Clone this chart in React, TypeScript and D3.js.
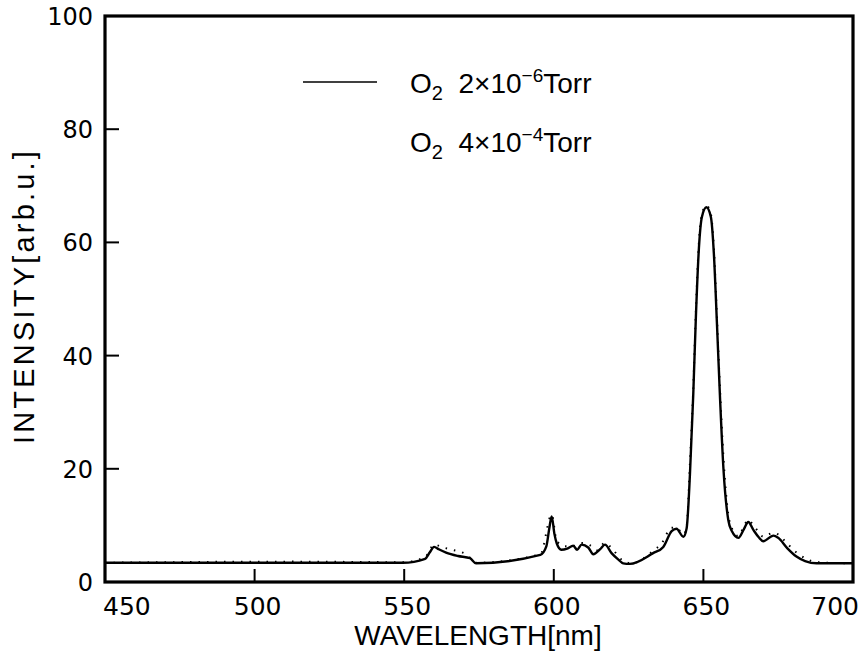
import React from "react";
import * as d3 from "d3";

const wavelength1 = [450, 500, 549.5, 557, 558.5, 560, 561.5, 564, 568, 572, 574, 595.5, 597.5, 598.5, 599.3, 600.2, 601, 602.5, 604.5, 606.5, 607.8, 609.3, 611.5, 613.2, 615.5, 617.1, 619.3, 621.5, 623.2, 625.4, 633.2, 636.6, 639.4, 641, 643.3, 644.4, 645.5, 646.6, 647.5, 648.5, 649.5, 651, 652.5, 653.5, 654.5, 655.6, 656.7, 658.3, 659.5, 661.7, 663.5, 665, 666.7, 668.5, 670, 673.4, 675, 678, 681.1, 684, 687.8, 700];
const intensity1 = [3.4, 3.4, 3.4, 4.1, 5.2, 6.2, 5.8, 5.2, 4.6, 4.2, 3.3, 4.8, 6.3, 9.5, 11.6, 8.5, 6.8, 5.7, 5.9, 6.4, 5.7, 6.6, 6.1, 4.9, 5.8, 6.6, 5.1, 4.0, 3.3, 3.2, 5.1, 6.2, 9.0, 9.4, 8.0, 9.5, 19, 33, 47, 59, 64.5, 66.2, 64.5, 58, 46, 32, 20, 11, 9, 7.8, 9.3, 10.6, 9.2, 7.9, 7.2, 8.2, 7.8, 6, 4.5, 3.7, 3.3, 3.3];

const wavelength2 = [450, 513, 549.5, 557, 560, 563, 566, 571, 574, 595.5, 599.3, 601, 604, 607, 609.3, 612, 614.5, 617, 619.5, 621.5, 623.5, 626, 633, 636, 639.4, 641, 643.3, 644.4, 645.5, 646.6, 647.5, 648.5, 649.5, 651, 652.5, 653.5, 654.5, 655.6, 656.7, 658.3, 659.5, 661.7, 663.5, 665, 666.7, 668.5, 670, 673.4, 675, 678, 681.1, 684, 687.8, 700];
const intensity2 = [3.4, 3.6, 3.5, 4.4, 6.6, 6.1, 5.7, 4.8, 3.4, 4.9, 11.9, 7.2, 6.3, 6.4, 6.9, 6.5, 5.6, 6.9, 5.9, 4.6, 3.6, 3.3, 5.4, 6.8, 9.6, 9.6, 8.4, 9.8, 21, 34, 48, 60, 65, 66.5, 65, 59, 47, 33.5, 22, 12, 9.5, 8.1, 9.8, 11, 10, 8.8, 8, 8.7, 8.4, 6.8, 5.2, 4.2, 3.5, 3.3];

const xTicks = [450, 500, 550, 600, 650, 700];
const yTicks = [0, 20, 40, 60, 80, 100];

export default function App() {
  const W = 862, H = 651;
  const L = 105, R = 853, T = 16, B = 582;
  const x = d3.scaleLinear().domain([450, 700]).range([L, R]);
  const y = d3.scaleLinear().domain([0, 100]).range([B, T]);
  const line = d3.line<[number, number]>().x(d => x(d[0])).y(d => y(d[1])).curve(d3.curveMonotoneX);
  const d1 = line(wavelength1.map((w, i) => [w, intensity1[i]]));
  const d2 = line(wavelength2.map((w, i) => [w, intensity2[i]]));
  const dv = "'DejaVu Sans', sans-serif";
  const lib = "'Liberation Sans', sans-serif";
  return (
    <svg width={W} height={H} style={{ position: "absolute", left: 0, top: 0, background: "#fff" }} fontFamily={dv}>
      <rect x={0} y={0} width={W} height={H} fill="#fff" />
      <path d={d2 ?? ""} fill="none" stroke="#000" strokeWidth={2} strokeDasharray="1.5,7" />
      <path d={d1 ?? ""} fill="none" stroke="#000" strokeWidth={2.4} />
      <rect x={L} y={T} width={R - L} height={B - T} fill="none" stroke="#000" strokeWidth={3.2} />
      {xTicks.map((t, i) => (
        <g key={"x" + t}>
          {t > 450 && t < 700 && <line x1={x(t)} x2={x(t)} y1={B} y2={B - 13} stroke="#000" strokeWidth={2} />}
          <text x={i === 0 ? 103 : i === xTicks.length - 1 ? 859 : x(t) + 3} y={615}
            textAnchor={i === 0 ? "start" : i === xTicks.length - 1 ? "end" : "middle"} fontSize={25}>{t}</text>
        </g>
      ))}
      {yTicks.map(t => (
        <g key={"y" + t}>
          {t > 0 && t < 100 && <line x1={L} x2={L + 14} y1={y(t)} y2={y(t)} stroke="#000" strokeWidth={2} />}
          <text x={93} y={y(t) + 9} textAnchor="end" fontSize={24}>{t}</text>
        </g>
      ))}
      <text x={478} y={645} textAnchor="middle" fontSize={28} style={{ fontFamily: lib }}>WAVELENGTH[nm]</text>
      <text transform={`translate(34,${296}) rotate(-90)`} textAnchor="middle" fontSize={29} letterSpacing={3.2} style={{ fontFamily: lib }}>INTENSITY[arb.u.]</text>
      <line x1={303} x2={377} y1={82} y2={82} stroke="#000" strokeWidth={1.6} />
      <text x={410} y={93} fontSize={28} style={{ fontFamily: lib }}>
        <tspan>O</tspan><tspan dy={7} fontSize={20}>2</tspan><tspan dy={-7}>{"\u00a0\u00a02\u00d710"}</tspan><tspan dy={-11} fontSize={19}>{"\u2212"}6</tspan><tspan dy={11}>Torr</tspan>
      </text>
      <text x={410} y={152} fontSize={28} style={{ fontFamily: lib }}>
        <tspan>O</tspan><tspan dy={7} fontSize={20}>2</tspan><tspan dy={-7}>{"\u00a0\u00a04\u00d710"}</tspan><tspan dy={-11} fontSize={19}>{"\u2212"}4</tspan><tspan dy={11}>Torr</tspan>
      </text>
    </svg>
  );
}
